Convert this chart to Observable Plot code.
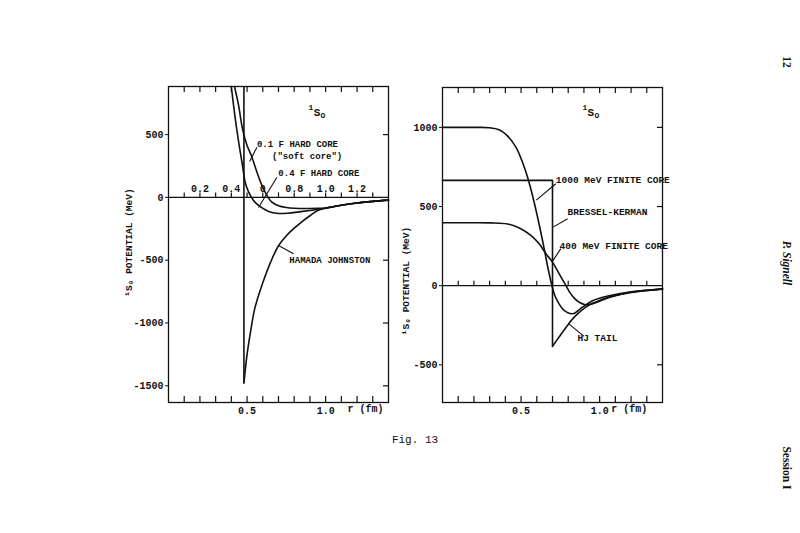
<!DOCTYPE html>
<html><head><meta charset="utf-8">
<script src="https://cdn.jsdelivr.net/npm/d3@7"></script>
<script src="https://cdn.jsdelivr.net/npm/@observablehq/plot@0.6"></script>
<style>
body{margin:0;background:#fff;}
#page{position:relative;width:800px;height:533px;overflow:hidden;background:#fff;font-family:"Liberation Mono",monospace;color:#111;}
#left,#right{position:absolute;top:0;}
#left{left:0}
#right{left:400px}
svg{overflow:visible}
.txt{position:absolute;white-space:nowrap;transform:translate(-50%,-50%);}
.side{position:absolute;white-space:nowrap;transform:translate(-50%,-50%) rotate(90deg);font-family:"Liberation Serif",serif;font-weight:bold;font-size:11.5px;}
</style></head>
<body><div id="page"><div id="left"></div><div id="right"></div>
<div class="txt" id="fig" style="left:415px;top:440px;font-size:11px;">Fig. 13</div>
<div class="side" style="left:787px;top:62px;">12</div>
<div class="side" style="left:787px;top:263px;font-style:italic;">P. Signell</div>
<div class="side" style="left:787px;top:468px;">Session I</div>
</div>
<script>
// ---------- shared axis data ----------
const minorX = [0.1,0.2,0.3,0.4,0.5,0.6,0.7,0.8,0.9,1.0,1.1,1.2,1.3];
const bottomLabels = [0.5, 1.0];
const midLabelPos = [0.2,0.4,0.6,0.8,1.0,1.2];
const midLabels = ["0.2","0.4","0","0.8","1.0","1.2"];
const leftYTicks = [-1500,-1000,-500,0,500];
const rightYTicks = [-500,0,500,1000];

// ---------- left panel series ----------
const hjR = [0.48,0.50,0.52,0.55,0.60,0.65,0.70,0.75,0.80,0.85,0.90,0.95,1.00,1.10,1.20,1.30,1.40];
const hjV = [-1480,-1250,-1086,-880,-680,-515,-385,-305,-245,-192,-146,-104,-86,-63,-45,-32,-22];
const softR = [0.42,0.446,0.471,0.50,0.527,0.563,0.595,0.627,0.658,0.70,0.75,0.80,0.88,0.95,1.00,1.10,1.20,1.30,1.40];
const softV = [883,732,546,413,334,201,95,15,-38,-66,-80,-86,-88,-87,-84,-62,-45,-32,-22];
const hc4R = [0.40,0.414,0.431,0.45,0.471,0.488,0.51,0.541,0.573,0.637,0.70,0.76,0.83,0.90,0.95,1.00,1.10,1.20,1.30,1.40];
const hc4V = [883,732,572,413,254,121,42,-25,-64,-112,-128,-126,-115,-104,-95,-86,-63,-45,-32,-22];
const leftTop = 883, leftBottom = -1633;

// ---------- right panel series ----------
const f1000R = [0,0.1,0.2,0.30,0.36,0.41,0.467,0.509,0.541,0.575,0.61,0.647,0.672,0.696,0.715,0.74,0.774,0.828,0.891,0.955,1.06,1.19,1.40];
const f1000V = [1000,1000,1000,998,985,950,875,780,686,560,410,234,107,2,-62,-112,-156,-177,-135,-95,-64,-40,-20];
const f400R = [0,0.1,0.2,0.307,0.414,0.498,0.562,0.615,0.658,0.70,0.742,0.785,0.81,0.84,0.87,0.91,0.95,1.0,1.06,1.19,1.40];
const f400V = [398,398,398,397,390,360,318,265,202,149,76,2,-42,-80,-105,-120,-115,-98,-75,-43,-21];
const bkR = [0,0.70,0.70];
const bkV = [665,665,-383];
const tailR = [0.70,0.742,0.795,0.849,0.912,0.976,1.06,1.19,1.40];
const tailV = [-383,-324,-251,-188,-135,-103,-72,-44,-22];
const rightTop = 1252, rightBottom = -738;

// ---------- annotations ----------
const leftLabels = [
  {r:0.563, v:425, t:"0.1 F HARD CORE"},
  {r:0.659, v:330, t:"(\"soft core\")"},
  {r:0.699, v:190, t:"0.4 F HARD CORE"},
  {r:0.769, v:-502, t:"HAMADA JOHNSTON"}
];
const leftPointers = [
  {r1:0.563, v1:400, r2:0.516, v2:286},
  {r1:0.69, v1:161, r2:0.573, v2:-80},
  {r1:0.796, v1:-449, r2:0.70, v2:-383}
];
const rightLabels = [
  {r:0.721, v:671, t:"1000 MeV FINITE CORE"},
  {r:0.796, v:463, t:"BRESSEL-KERMAN"},
  {r:0.745, v:248, t:"400 MeV FINITE CORE"},
  {r:0.859, v:-333, t:"HJ TAIL"}
];
const rightPointers = [
  {r1:0.721, v1:644, r2:0.597, v2:540},
  {r1:0.796, v1:423, r2:0.704, v2:370},
  {r1:0.753, v1:234, r2:0.704, v2:160},
  {r1:0.901, v1:-320, r2:0.802, v2:-240}
];
const stateLeft = {r:0.945, v:678};
const stateRight = {r:0.944, v:1096};
const yTitle = "\u00B9S\u2080 POTENTIAL (MeV)";
const xTitle = "r (fm)";

function pts(R, V){ return R.map((r,i)=>({r, v:V[i]})); }

function panel(opt){
  const W = 400, H = 440;
  const plotH = H - opt.mt - opt.mb, plotW = W - opt.ml - opt.mr;
  const ky = (opt.yMax - opt.yMin)/plotH;
  const kx = 1.4/plotW;
  const marks = [
    Plot.frame({stroke:"#111", strokeWidth:1.3}),
    Plot.ruleY([0], {stroke:"#111", strokeWidth:1.3}),
    Plot.ruleX(minorX, {x:d=>d, y1:opt.yMax, y2:opt.yMax-6*ky, stroke:"#111", strokeWidth:1.2}),
    Plot.ruleX(minorX, {x:d=>d, y1:opt.yMin, y2:opt.yMin+6*ky, stroke:"#111", strokeWidth:1.2}),
    Plot.ruleX(minorX, {x:d=>d, y1:0, y2:4.5*ky, stroke:"#111", strokeWidth:1.2}),
    Plot.ruleY(opt.yTicks.filter(d=>d!==0), {y:d=>d, x1:1.4, x2:1.4-5*kx, stroke:"#111", strokeWidth:1.2}),
    Plot.axisY({ticks:opt.yTicks, tickSize:3, tickPadding:2, tickFormat:d=>String(d), label:null, fontSize:10}),
    Plot.axisX({ticks:bottomLabels, tickSize:0, tickPadding:4, tickFormat:d3.format(".1f"), label:null, fontSize:10}),
    Plot.text([xTitle], {x:opt.xTitleR, frameAnchor:"bottom", text:d=>d, dy:9, fontSize:10}),
    Plot.text([yTitle], {frameAnchor:"left", textAnchor:"middle", text:d=>d, rotate:-90, dx:opt.titleDx, dy:opt.titleDy, fontSize:9.5}),
    Plot.text([opt.state], {x:"r", y:"v", text:()=>"S", fontSize:11}),
    Plot.text([opt.state], {x:"r", y:"v", text:()=>"1", fontSize:8, dx:-6, dy:-5}),
    Plot.text([opt.state], {x:"r", y:"v", text:()=>"O", fontSize:8, dx:6, dy:3}),
    ...opt.extra(ky),
    Plot.text(opt.labels, {x:"r", y:"v", text:"t", textAnchor:"start", fontSize:opt.labelSize}),
    Plot.link(opt.pointers, {x1:"r1", y1:"v1", x2:"r2", y2:"v2", stroke:"#111", strokeWidth:1.1})
  ];
  return Plot.plot({
    width:W, height:H,
    marginLeft:opt.ml, marginRight:opt.mr, marginTop:opt.mt, marginBottom:opt.mb,
    x:{domain:[0,1.4], axis:null},
    y:{domain:[opt.yMin, opt.yMax], axis:null},
    style:{fontFamily:"'Liberation Mono', monospace", fontWeight:"bold", color:"#111", background:"transparent", overflow:"visible"},
    marks
  });
}

const sw = 1.6;
const left = panel({
  ml:168, mr:12, mt:86, mb:38, yMin:leftBottom, yMax:leftTop, yTicks:leftYTicks,
  xTitleR:1.253, titleDx:-40, titleDy:-2, state:stateLeft, labelSize:9,
  labels:leftLabels, pointers:leftPointers,
  extra:(ky)=>[
    Plot.ruleX([hjR[0]], {x:d=>d, y1:leftTop, y2:hjV[0], stroke:"#111", strokeWidth:sw}),
    Plot.line(pts(hjR,hjV), {x:"r", y:"v", curve:"catmull-rom", stroke:"#111", strokeWidth:sw}),
    Plot.line(pts(softR,softV), {x:"r", y:"v", curve:"catmull-rom", stroke:"#111", strokeWidth:sw}),
    Plot.line(pts(hc4R,hc4V), {x:"r", y:"v", curve:"catmull-rom", stroke:"#111", strokeWidth:sw}),
    Plot.text(midLabelPos, {x:d=>d, y:0, text:(d,i)=>midLabels[i], lineAnchor:"bottom", dy:-5, fontSize:10})
  ]
});
document.getElementById("left").appendChild(left);

const right = panel({
  ml:42, mr:138, mt:87, mb:38, yMin:rightBottom, yMax:rightTop, yTicks:rightYTicks,
  xTitleR:1.188, titleDx:-37, titleDy:36, state:stateRight, labelSize:9.5,
  labels:rightLabels, pointers:rightPointers,
  extra:(ky)=>[
    Plot.line(pts(bkR,bkV), {x:"r", y:"v", stroke:"#111", strokeWidth:sw}),
    Plot.line(pts(tailR,tailV), {x:"r", y:"v", curve:"catmull-rom", stroke:"#111", strokeWidth:sw}),
    Plot.line(pts(f1000R,f1000V), {x:"r", y:"v", curve:"catmull-rom", stroke:"#111", strokeWidth:sw}),
    Plot.line(pts(f400R,f400V), {x:"r", y:"v", curve:"catmull-rom", stroke:"#111", strokeWidth:sw})
  ]
});
document.getElementById("right").appendChild(right);
</script>
</body></html>
